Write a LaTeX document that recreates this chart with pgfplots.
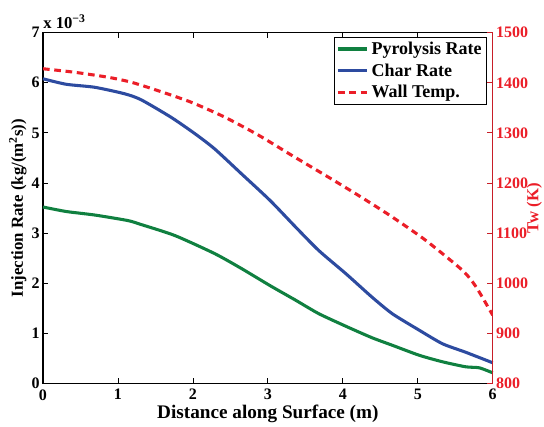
\documentclass[border=0pt]{standalone}
\usepackage{fontspec}
\setmainfont{Liberation Serif}
\usepackage{pgfplots}
\pgfplotsset{compat=1.18}
\definecolor{pgreen}{RGB}{16,128,64}
\definecolor{cblue}{RGB}{45,75,160}
\definecolor{wred}{RGB}{235,30,40}
\definecolor{axred}{RGB}{200,30,40}
\begin{document}
\begin{tikzpicture}
\useasboundingbox (-32.25pt,-32pt) rectangle (375.75pt,287.5pt);
\pgfplotsset{
  common/.style={
    scale only axis, width=337.3pt, height=263pt,
    xmin=0, xmax=6,
    tick align=inside, major tick length=4pt,
    /pgf/number format/assume math mode=true,
    /pgf/number format/1000 sep={},
    ticklabel style={font=\bfseries\fontsize{12}{12}\selectfont},
  }
}
\begin{axis}[common,
  clip=false,
  ymin=0, ymax=7,
  xtick={0,1,2,3,4,5,6}, ytick={0,1,2,3,4,5,6,7},
  xtick pos=both, xticklabel pos=lower,
  ytick pos=left,
  axis line style={line width=0.8pt, black},
  every tick/.style={black, line width=0.6pt},
  xticklabel style={yshift=-1pt},
  yticklabel style={xshift=1pt},
  xlabel={Distance along Surface (m)},
  xlabel style={font=\bfseries\fontsize{14.4}{14.4}\selectfont, yshift=3pt},
  ylabel={Injection Rate (kg/(m\textsuperscript{2}s))},
  ylabel style={font=\bfseries\fontsize{12.6}{12.6}\selectfont, yshift=-3pt},
]
\node[anchor=south west, inner sep=0pt, font=\bfseries\fontsize{12.5}{12.5}\selectfont] at (rel axis cs:0,1) [yshift=3pt] {x 10\textsuperscript{−3}};
\addplot[pgreen, line width=2.3pt, smooth, tension=0.4] coordinates {
(0,3.52) (0.31,3.43) (0.69,3.36) (1.13,3.25) (1.31,3.17) (1.76,2.95)
(2.29,2.59) (2.65,2.29) (3.03,1.95) (3.37,1.66) (3.68,1.39) (4.04,1.14)
(4.39,0.91) (4.66,0.76) (5.02,0.56) (5.33,0.43) (5.64,0.33) (5.82,0.31) (6.0,0.21)
};
\addplot[cblue, line width=2.3pt, smooth, tension=0.4] coordinates {
(0,6.08) (0.31,5.97) (0.69,5.91) (1.09,5.78) (1.31,5.66) (1.71,5.31)
(2.03,4.98) (2.29,4.68) (2.65,4.18) (3.03,3.65) (3.37,3.12) (3.68,2.65)
(4.04,2.19) (4.39,1.72) (4.66,1.39) (5.02,1.06) (5.33,0.79) (5.64,0.62) (6.0,0.41)
};
\end{axis}
\begin{axis}[common,
  ymin=800, ymax=1500,
  ytick={800,900,1000,1100,1200,1300,1400,1500},
  axis x line=none,
  axis y line*=right,
  y axis line style={line width=0.8pt, axred},
  ytick style={axred, line width=0.6pt},
  yticklabel style={wred, xshift=-1pt},
  ylabel={Tw (K)},
  ylabel style={wred, font=\bfseries\fontsize{12.6}{12.6}\selectfont,
    at={(rel axis cs:1.075,0.5)}, anchor=north, inner sep=0pt},
  legend cell align=left,
  legend style={at={(0.987,0.989)}, anchor=north east, draw=black, line width=0.8pt,
    font=\bfseries\fontsize{13.5}{15}\selectfont, row sep=1.5pt, inner sep=1.5pt},
  legend image code/.code={\draw[#1, line width=2.3pt] (0pt,0pt) -- (22pt,0pt);},
]
\addlegendimage{pgreen}
\addlegendentry{Pyrolysis Rate}
\addlegendimage{cblue}
\addlegendentry{Char Rate}
\addplot[wred, line width=2.3pt, dash pattern=on 5pt off 3.5pt, smooth, tension=0.4] coordinates {
(0,1428) (0.42,1421) (0.87,1411) (1.18,1401) (1.54,1384) (1.98,1361)
(2.43,1331) (2.88,1295) (3.32,1255) (3.77,1215) (4.21,1175) (4.66,1132)
(5.11,1085) (5.60,1025) (5.78,992) (6.0,936)
};
\addlegendentry{Wall Temp.}
\end{axis}
\end{tikzpicture}
\end{document}
